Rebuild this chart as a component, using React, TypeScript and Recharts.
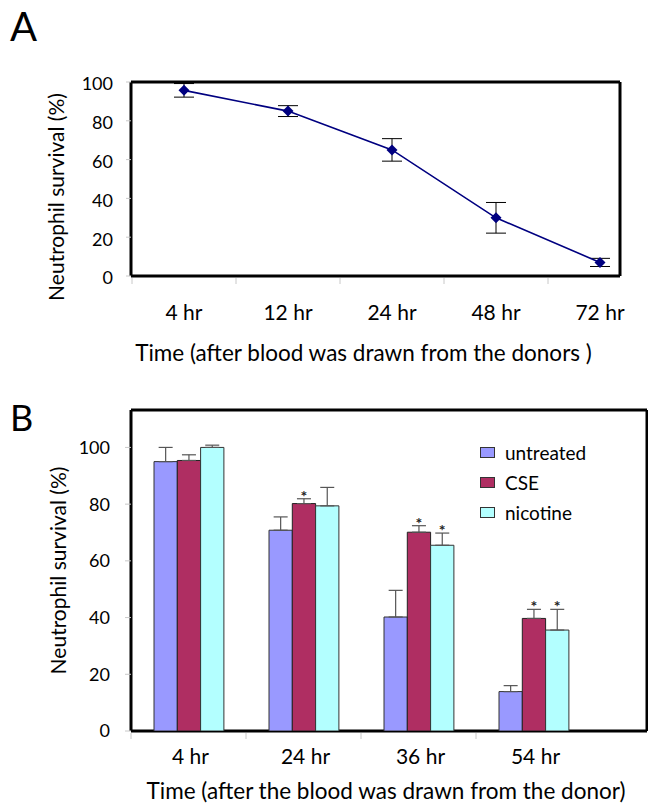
import React from 'react';
import {
  LineChart,
  Line,
  BarChart,
  Bar,
  XAxis,
  YAxis,
  ErrorBar,
  Legend,
  LabelList,
  Label,
  CartesianGrid,
} from 'recharts';

const FONT = 'Lato, "Open Sans", sans-serif';

// panel A: survival over time after the blood draw
const hoursA = ['4 hr', '12 hr', '24 hr', '48 hr', '72 hr'];
const survivalA = [95.7, 85, 65, 30, 7];
const survivalErrA = [3.5, 2.8, 5.8, 7.9, 2.1];

// panel B: treatments
const hoursB = ['4 hr', '24 hr', '36 hr', '54 hr'];
const seriesB = ['untreated', 'CSE', 'nicotine'];
const untreated = [95, 70.8, 40.2, 13.9];
const untreatedErr = [5, 4.7, 9.4, 2.1];
const cse = [95.4, 80.2, 70.1, 39.7];
const cseErr = [2, 1.7, 2.3, 3.2];
const nicotine = [100, 79.4, 65.5, 35.6];
const nicotineErr = [0.8, 6.5, 4.3, 7.3];
const cseSig = [false, true, true, true];
const nicotineSig = [false, false, true, true];

const yTicks = [0, 20, 40, 60, 80, 100];

const dataA = hoursA.map((h, i) => ({ time: h, survival: survivalA[i], err: survivalErrA[i] }));

const dataB = hoursB.map((h, i) => ({
  time: h,
  untreated: untreated[i],
  untreatedErr: [0, untreatedErr[i]],
  cse: cse[i],
  cseErr: [0, cseErr[i]],
  nicotine: nicotine[i],
  nicotineErr: [0, nicotineErr[i]],
}));

// frame = grid lines only on the plot edges
const frameH = ({ offset }: any) => [offset.top, offset.top + offset.height];
const frameV = ({ offset }: any) => [offset.left, offset.left + offset.width];

const Diamond = (props: any) => {
  const { cx, cy, index } = props;
  if (cx == null || cy == null) return <g key={'d' + index} />;
  const r = 5.5;
  return (
    <path
      key={'d' + index}
      d={`M${cx},${cy - r} L${cx + r},${cy} L${cx},${cy + r} L${cx - r},${cy} Z`}
      fill="#000080"
    />
  );
};

const xTick = (half: number, textDy: number, dx: number) => (props: any) => {
  const { x, y, payload } = props;
  return (
    <g>
      <line x1={x - half} x2={x - half} y1={y + 2} y2={y + 8} stroke="#c8c8c8" />
      <text x={x + dx} y={y + textDy} textAnchor="middle" fontSize={21} fontFamily={FONT} fill="#000">
        {payload.value}
      </text>
    </g>
  );
};

const xTitle = (text: string, dx: number, dy: number) => (props: any) => {
  const vb = props.viewBox;
  return (
    <text x={vb.x + vb.width / 2 + dx} y={vb.y + dy} textAnchor="middle" fontSize={22.5} fontFamily={FONT} fill="#000">
      {text}
    </text>
  );
};

const yTitle = (dx: number, dy: number) => (props: any) => {
  const vb = props.viewBox;
  const x = vb.x + dx;
  const y = vb.y + vb.height / 2 + dy;
  return (
    <text
      x={x}
      y={y}
      transform={`rotate(-90 ${x} ${y})`}
      textAnchor="middle"
      fontSize={21}
      fontFamily={FONT}
      fill="#000"
    >
      Neutrophil survival (%)
    </text>
  );
};

const star = (vals: number[], errs: number[], sig: boolean[]) => (p: any) => {
  const i = p.index;
  if (i == null || !sig[i]) return null;
  const ppu = p.height / vals[i];
  const capY = p.y - errs[i] * ppu;
  return (
    <text
      key={'s' + i}
      x={p.x + p.width / 2}
      y={capY + 3}
      textAnchor="middle"
      fontSize={16}
      fontWeight="bold"
      fontFamily={FONT}
      fill="#222"
    >
      *
    </text>
  );
};

const LegendB = (props: any) => {
  const items = [...(props.payload || [])].sort(
    (a: any, b: any) => seriesB.indexOf(a.value) - seriesB.indexOf(b.value)
  );
  return (
    <div style={{ fontFamily: FONT, fontSize: 19, color: '#000' }}>
      {items.map((e: any) => (
        <div key={e.value} style={{ display: 'flex', alignItems: 'center', height: 30 }}>
          <span
            style={{
              display: 'inline-block',
              width: 13,
              height: 9,
              background: e.color || (e.payload && e.payload.fill),
              border: '1px solid #333',
              marginRight: 10,
            }}
          />
          <span>{e.value}</span>
        </div>
      ))}
    </div>
  );
};

export default function App() {
  return (
    <div style={{ position: 'absolute', left: 0, top: 0, width: 648, height: 804, background: '#fff', fontFamily: FONT }}>
      <div style={{ position: 'absolute', left: 10, top: 6, fontSize: 40, lineHeight: '40px' }}>A</div>
      <div style={{ position: 'absolute', left: 10, top: 399, fontSize: 36, lineHeight: '36px' }}>B</div>

      <div style={{ position: 'absolute', left: 0, top: 0 }}>
        <LineChart width={648} height={380} data={dataA} margin={{ top: 82, right: 28, bottom: 74, left: 71 }}>
          <CartesianGrid
            stroke="#000"
            strokeWidth={3}
            horizontalCoordinatesGenerator={frameH}
            verticalCoordinatesGenerator={frameV}
          />
          <XAxis
            dataKey="time"
            scale="point"
            padding={{ left: 53, right: 20 }}
            axisLine={false}
            tickLine={false}
            tickSize={0}
            tickMargin={0}
            interval={0}
            height={30}
            tick={xTick(52, 44, 0)}
          >
            <Label content={xTitle('Time (after blood was drawn from the donors )', -12, 85)} />
          </XAxis>
          <YAxis
            domain={[0, 100]}
            ticks={yTicks}
            allowDataOverflow
            width={60}
            axisLine={false}
            tickLine={{ stroke: '#c8c8c8' }}
            tickSize={5}
            tickMargin={13}
            tick={{ fontSize: 18, fill: '#000', fontFamily: FONT, dy: 2 }}
          >
            <Label content={yTitle(-7, 18)} />
          </YAxis>
          <Line
            dataKey="survival"
            stroke="#000080"
            strokeWidth={1.6}
            dot={Diamond}
            activeDot={false}
            isAnimationActive={false}
          >
            <ErrorBar dataKey="err" width={10} stroke="#000" strokeWidth={1} direction="y" />
          </Line>
        </LineChart>
      </div>

      <div style={{ position: 'absolute', left: 0, top: 380 }}>
        <BarChart
          width={648}
          height={424}
          data={dataB}
          margin={{ top: 30, right: 1, bottom: 43, left: 71 }}
          barSize={23.3}
          barGap={0}
        >
          <CartesianGrid
            stroke="#000"
            strokeWidth={3}
            horizontalCoordinatesGenerator={frameH}
            verticalCoordinatesGenerator={frameV}
          />
          <XAxis
            dataKey="time"
            padding={{ left: 0, right: 56 }}
            axisLine={false}
            tickLine={false}
            tickSize={0}
            tickMargin={0}
            interval={0}
            height={30}
            tick={xTick(57.5, 33, 2)}
          >
            <Label content={xTitle('Time (after the blood was drawn from the donor)', -3, 68)} />
          </XAxis>
          <YAxis
            domain={[0, 113.2]}
            ticks={yTicks}
            allowDataOverflow
            width={60}
            axisLine={false}
            tickLine={{ stroke: '#c8c8c8' }}
            tickSize={6}
            tickMargin={15}
            tick={{ fontSize: 18, fill: '#000', fontFamily: FONT }}
          >
            <Label content={yTitle(-5, 0)} />
          </YAxis>
          <Legend
            layout="vertical"
            align="center"
            verticalAlign="middle"
            content={LegendB}
            wrapperStyle={{ left: 480, top: 57, width: 160 }}
          />
          <Bar dataKey="untreated" name="untreated" fill="#9999FF" stroke="#333" strokeWidth={1} isAnimationActive={false}>
            <ErrorBar dataKey="untreatedErr" width={7} stroke="#555" strokeWidth={1.2} direction="y" />
          </Bar>
          <Bar dataKey="cse" name="CSE" fill="#AF2E62" stroke="#222" strokeWidth={1} isAnimationActive={false}>
            <ErrorBar dataKey="cseErr" width={7} stroke="#555" strokeWidth={1.2} direction="y" />
            <LabelList dataKey="cse" content={star(cse, cseErr, cseSig)} />
          </Bar>
          <Bar dataKey="nicotine" name="nicotine" fill="#B3FFFF" stroke="#333" strokeWidth={1} isAnimationActive={false}>
            <ErrorBar dataKey="nicotineErr" width={7} stroke="#555" strokeWidth={1.2} direction="y" />
            <LabelList dataKey="nicotine" content={star(nicotine, nicotineErr, nicotineSig)} />
          </Bar>
        </BarChart>
      </div>
    </div>
  );
}
